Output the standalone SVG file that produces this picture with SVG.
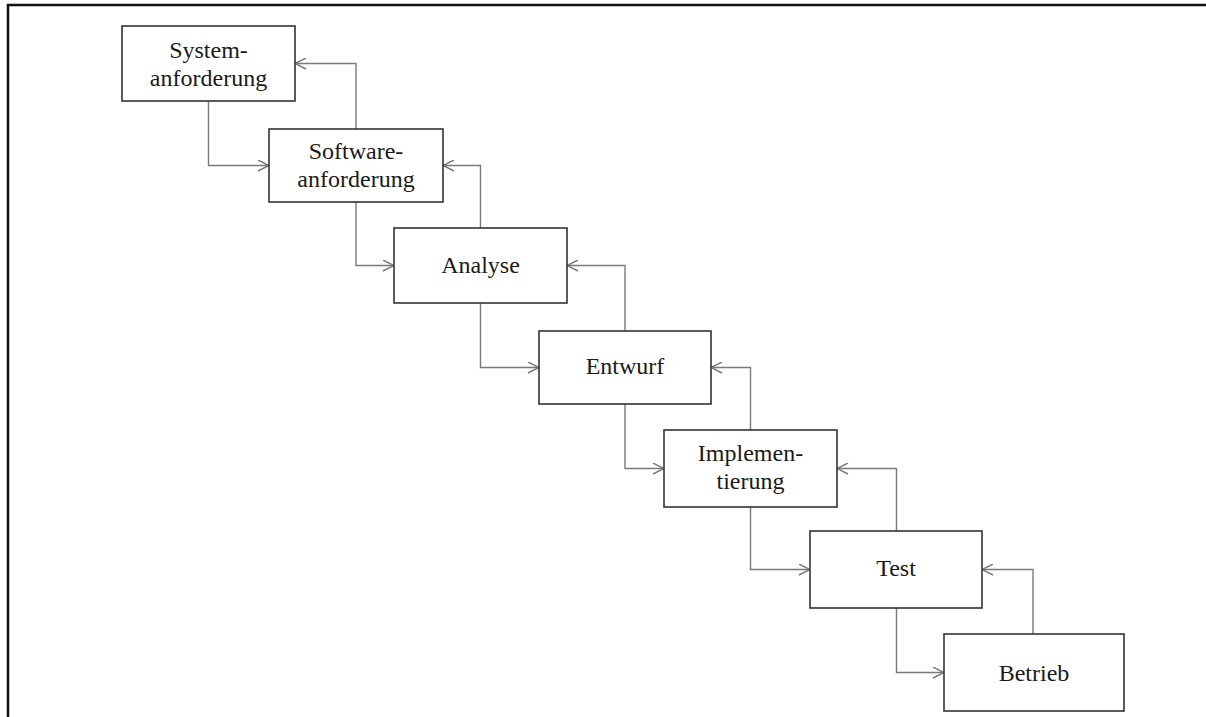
<svg xmlns="http://www.w3.org/2000/svg" width="1206" height="717" viewBox="0 0 1206 717">
  <style>
    .box { fill: #ffffff; stroke: #333333; stroke-width: 1.6; }
    .lbl { font-family: "Liberation Serif", "Times New Roman", serif; font-size: 24px; fill: #1a1a1a; text-anchor: middle; }
    .conn { fill: none; stroke: #7a7a7a; stroke-width: 1.4; marker-end: url(#arrow); }
    .frame { fill: none; stroke: #111111; stroke-width: 2.5; }
  </style>
  <defs>
    <marker id="arrow" viewBox="0 0 12 12" refX="12" refY="6" markerWidth="12" markerHeight="12" markerUnits="userSpaceOnUse" orient="auto">
      <path d="M1,0.5 L12,6 L1,11.5" fill="none" stroke="#7a7a7a" stroke-width="1.4"/>
    </marker>
  </defs>

  <rect width="1206" height="717" fill="#ffffff"/>
  <!-- page frame: top and left edges -->
  <path class="frame" d="M8,717 V5 H1206"/>

  <!-- forward and feedback connectors -->
  <g id="connectors">
    <path class="conn" d="M208.5,101 V165.5 H269"/>
    <path class="conn" d="M356,129 V63.5 H295"/>
    <path class="conn" d="M356,202 V265.5 H394"/>
    <path class="conn" d="M480.5,228 V165.5 H443"/>
    <path class="conn" d="M480.5,303 V367.5 H539"/>
    <path class="conn" d="M625,331 V265.5 H567"/>
    <path class="conn" d="M625,404 V468.5 H664"/>
    <path class="conn" d="M750.5,430 V367.5 H711"/>
    <path class="conn" d="M750.5,507 V569.5 H810"/>
    <path class="conn" d="M896.5,531 V468.5 H837"/>
    <path class="conn" d="M896.5,608 V672.5 H944"/>
    <path class="conn" d="M1033,634 V569.5 H982"/>
  </g>

  <g id="systemanforderung">
    <rect class="box" x="122" y="26" width="173" height="75"/>
    <text class="lbl" x="208.5" y="58">System-</text>
    <text class="lbl" x="208.5" y="86">anforderung</text>
  </g>
  <g id="softwareanforderung">
    <rect class="box" x="269" y="129" width="174" height="73"/>
    <text class="lbl" x="356" y="159">Software-</text>
    <text class="lbl" x="356" y="187">anforderung</text>
  </g>
  <g id="analyse">
    <rect class="box" x="394" y="228" width="173" height="75"/>
    <text class="lbl" x="480.5" y="273">Analyse</text>
  </g>
  <g id="entwurf">
    <rect class="box" x="539" y="331" width="172" height="73"/>
    <text class="lbl" x="625" y="374">Entwurf</text>
  </g>
  <g id="implementierung">
    <rect class="box" x="664" y="430" width="173" height="77"/>
    <text class="lbl" x="750.5" y="461">Implemen-</text>
    <text class="lbl" x="750.5" y="489">tierung</text>
  </g>
  <g id="test">
    <rect class="box" x="810" y="531" width="172" height="77"/>
    <text class="lbl" x="896" y="576">Test</text>
  </g>
  <g id="betrieb">
    <rect class="box" x="944" y="634" width="180" height="77"/>
    <text class="lbl" x="1034" y="681">Betrieb</text>
  </g>
</svg>
